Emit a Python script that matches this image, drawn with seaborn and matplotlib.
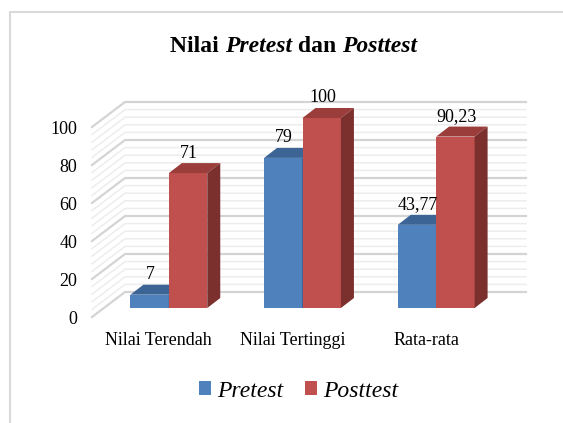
import numpy as np
import pandas as pd
import matplotlib
matplotlib.use("Agg")
import matplotlib.pyplot as plt
import seaborn as sns
from matplotlib.patches import Polygon
from matplotlib.lines import Line2D
from matplotlib.transforms import Affine2D, IdentityTransform
from matplotlib.offsetbox import TextArea, HPacker, AnnotationBbox

categories = ["Nilai Terendah", "Nilai Tertinggi", "Rata-rata"]
pretest = [7, 79, 43.77]
posttest = [71, 100, 90.23]
pretest_labels = ["7", "79", "43,77"]
posttest_labels = ["71", "100", "90,23"]
yticks = [0, 20, 40, 60, 80, 100]

df = pd.DataFrame({
    "kategori": categories * 2,
    "tes": ["Pretest"] * 3 + ["Posttest"] * 3,
    "nilai": pretest + posttest,
})

plt.rcParams["font.family"] = ["Liberation Serif", "DejaVu Serif"]

W, H = 563, 423
fig = plt.figure(figsize=(W / 100, H / 100), dpi=100)
ax = fig.add_axes([92 / W, 1 - 317 / H, (493 - 92) / W, (317 - 127) / H])

palette = {"Pretest": "#4F81BD", "Posttest": "#C0504D"}
top_col = {"Pretest": "#3C6494", "Posttest": "#9B3E3B"}
side_col = {"Pretest": "#2F4F75", "Posttest": "#7B302E"}

sns.barplot(data=df, x="kategori", y="nilai", hue="tes", palette=palette,
            width=0.575, saturation=1, ax=ax)
ax.set_xlim(-0.5, 2.5)
ax.set_ylim(0, 100)

# pseudo-3d offsets in pixels (right, up)
bar_shift = (10, 9)
depth = (13, 10)
wall = (33, 25)
to_px = ax.transData.transform

# back wall + side wall grid
for v in np.arange(0, 101, 4):
    major = v % 20 == 0
    x0, y0 = to_px((-0.5, v))
    x1, _ = to_px((2.5, v))
    ln = Line2D([x0, x0 + wall[0], x1 + wall[0]], [y0, y0 + wall[1], y0 + wall[1]],
                transform=IdentityTransform(), color="#D4D4D4" if major else "#EDEDED",
                lw=1.6 if major else 1.1, zorder=1, clip_on=False)
    ax.add_line(ln)

series = [("Pretest", pretest_labels), ("Posttest", posttest_labels)]
for k, (cont, (name, labs)) in enumerate(zip(ax.containers, series)):
    z = 3 + k
    for rect, lab in zip(cont, labs):
        rect.set_transform(ax.transData + Affine2D().translate(*bar_shift))
        rect.set_clip_on(False)
        rect.set_zorder(z)
        rect.set_linewidth(0)
        x, w, h = rect.get_x(), rect.get_width(), rect.get_height()
        bx0, by0 = to_px((x, 0)) + np.array(bar_shift)
        bx1, by1 = to_px((x + w, h)) + np.array(bar_shift)
        top = Polygon([(bx0, by1), (bx1, by1), (bx1 + depth[0], by1 + depth[1]),
                       (bx0 + depth[0], by1 + depth[1])], closed=True,
                      transform=IdentityTransform(), facecolor=top_col[name],
                      lw=0, zorder=z, clip_on=False)
        side = Polygon([(bx1, by0), (bx1, by1), (bx1 + depth[0], by1 + depth[1]),
                        (bx1 + depth[0], by0 + depth[1])], closed=True,
                       transform=IdentityTransform(), facecolor=side_col[name],
                       lw=0, zorder=z, clip_on=False)
        ax.add_patch(top)
        ax.add_patch(side)
        ax.annotate(lab, xy=(x + w / 2, h), xytext=(bar_shift[0] + 1, bar_shift[1] + 15.5),
                    textcoords="offset pixels", ha="center", va="baseline",
                    fontsize=13, zorder=6, annotation_clip=False)

ax.set_yticks(yticks)
ax.set_xlabel("")
ax.set_ylabel("")
ax.tick_params(axis="y", length=0, labelsize=13, pad=10.5)
ax.tick_params(axis="x", length=0, labelsize=13, pad=11)
for s in ax.spines.values():
    s.set_visible(False)
ax.patch.set_visible(False)

sns.move_legend(ax, "center", bbox_to_anchor=(298.5 / W, 1 - 391 / H),
                bbox_transform=fig.transFigure, ncol=2, frameon=False, title=None,
                fontsize=17, handlelength=0.51, handleheight=0.51,
                handletextpad=0.25, columnspacing=0.9)
for t in ax.get_legend().get_texts():
    t.set_style("italic")

# title with italic words
bold = dict(fontsize=17, fontweight="bold")
boldit = dict(fontsize=17, fontweight="bold", style="italic")
title = HPacker(children=[TextArea("Nilai ", textprops=bold),
                          TextArea("Pretest", textprops=boldit),
                          TextArea(" dan ", textprops=bold),
                          TextArea("Posttest", textprops=boldit)],
                align="baseline", pad=0, sep=0)
ab = AnnotationBbox(title, (294 / W, 1 - 47 / H), xycoords="figure fraction",
                    frameon=False, box_alignment=(0.5, 0.5), annotation_clip=False)
fig.add_artist(ab)

fig.add_artist(Line2D([10 / W, 10 / W, 1], [0, 1 - 12 / H, 1 - 12 / H],
                      transform=fig.transFigure, color="#D9D9D9", lw=1.5))

fig.savefig("out.png", dpi=100)
